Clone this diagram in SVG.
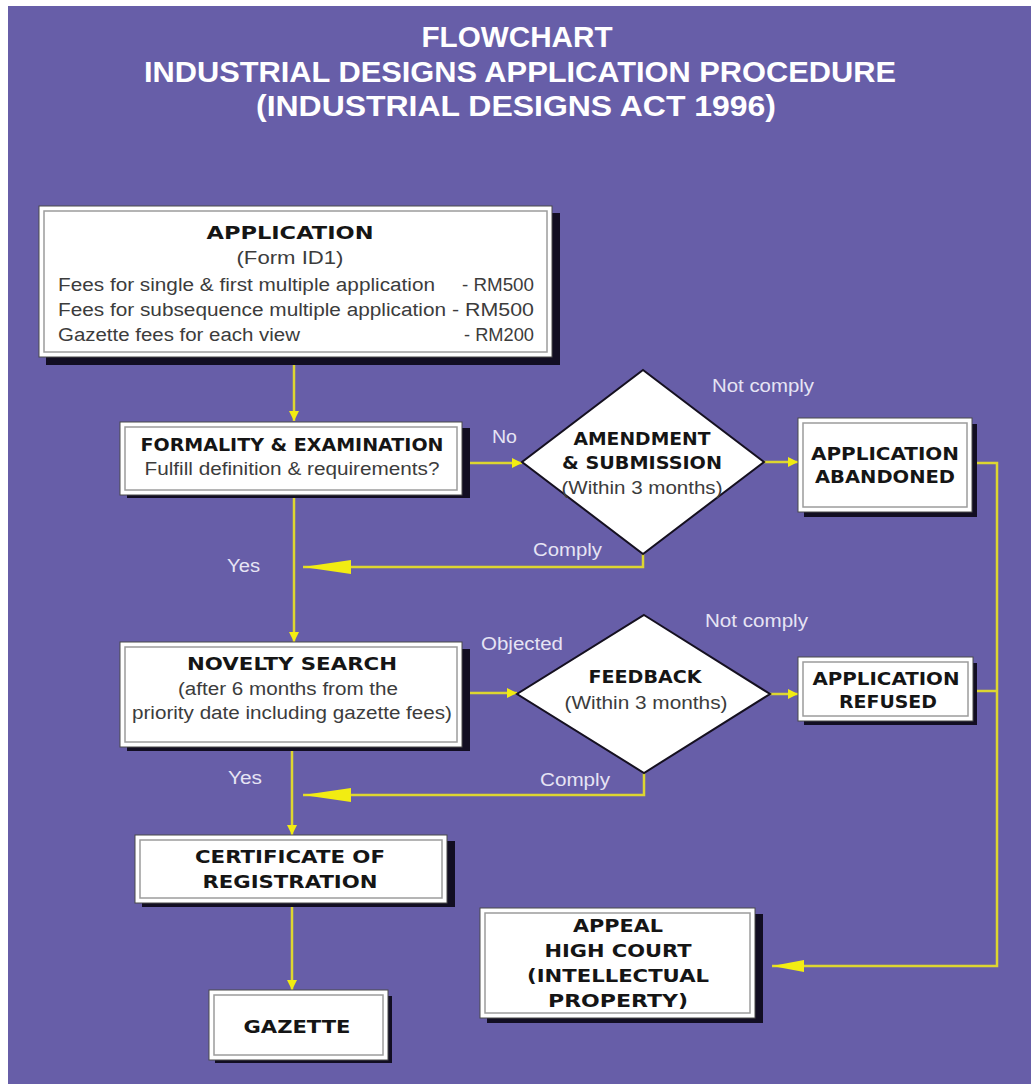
<svg xmlns="http://www.w3.org/2000/svg" width="1031" height="1084" viewBox="0 0 1031 1084">
<defs>
<style>
.bg{fill:#675EA8}
.title{font-family:"Liberation Sans",Arial,sans-serif;font-weight:bold;font-size:29px;fill:#FFFFFF;text-anchor:middle}
.shadow{fill:#120E22}
.box{fill:#FFFFFF;stroke:#4a4a4a;stroke-width:1}
.inner{fill:none;stroke:#9c9c9c;stroke-width:1.5}
.diamond{fill:#FFFFFF;stroke:#151020;stroke-width:2}
.h{font-family:"DejaVu Sans","Liberation Sans",sans-serif;font-weight:bold;font-size:18px;fill:#151515;text-anchor:middle}
.s{font-family:"Liberation Sans",Arial,sans-serif;font-size:18px;fill:#3c3c3c;text-anchor:middle}
.f{font-family:"Liberation Sans",Arial,sans-serif;font-size:18px;fill:#3c3c3c}
.lbl{font-family:"Liberation Sans",Arial,sans-serif;font-size:18px;fill:#E6E4F4}
.con{fill:none;stroke:#DDD631;stroke-width:2.5}
.ah{fill:#F2EC12}
</style>
<marker id="sm" viewBox="0 0 10 10" refX="10" refY="5" markerWidth="10" markerHeight="10" markerUnits="userSpaceOnUse" orient="auto"><path d="M0,0 L10,5 L0,10 Z" class="ah"/></marker>
<marker id="big" viewBox="0 0 48 14" refX="48" refY="7" markerWidth="48" markerHeight="14" markerUnits="userSpaceOnUse" orient="auto"><path d="M0,0 L48,7 L0,14 Z" class="ah"/></marker>
<marker id="mid" viewBox="0 0 32 12" refX="32" refY="6" markerWidth="32" markerHeight="12" markerUnits="userSpaceOnUse" orient="auto"><path d="M0,0 L32,6 L0,12 Z" class="ah"/></marker>
</defs>
<rect x="0" y="0" width="1031" height="1084" fill="#FFFFFF"/>
<rect class="bg" x="8" y="6" width="1023" height="1078"/>
<g id="title">
<text class="title" x="517" y="47" textLength="191" lengthAdjust="spacingAndGlyphs">FLOWCHART</text>
<text class="title" x="520" y="82" textLength="752" lengthAdjust="spacingAndGlyphs">INDUSTRIAL DESIGNS APPLICATION PROCEDURE</text>
<text class="title" x="516" y="116" textLength="520" lengthAdjust="spacingAndGlyphs">(INDUSTRIAL DESIGNS ACT 1996)</text>
</g>
<g id="connectors">
<path class="con" d="M294,360 L294,421" marker-end="url(#sm)"/>
<path class="con" d="M462,463 L522,463" marker-end="url(#sm)"/>
<path class="con" d="M764,462 L798,462" marker-end="url(#sm)"/>
<path class="con" d="M643,554 L643,567 L303,567" marker-end="url(#big)"/>
<path class="con" d="M294,495 L294,642" marker-end="url(#sm)"/>
<path class="con" d="M462,693 L517,693" marker-end="url(#sm)"/>
<path class="con" d="M770,694 L798,694" marker-end="url(#sm)"/>
<path class="con" d="M644,773 L644,795 L303,795" marker-end="url(#big)"/>
<path class="con" d="M292,747 L292,835" marker-end="url(#sm)"/>
<path class="con" d="M292,903 L292,990" marker-end="url(#sm)"/>
<path class="con" d="M972,463 L997,463 L997,966 L772,966" marker-end="url(#mid)"/>
<path class="con" d="M973,691 L997,691"/>
</g>
<g id="labels">
<text class="lbl" x="227" y="572" textLength="33" lengthAdjust="spacingAndGlyphs">Yes</text>
<text class="lbl" x="228" y="784" textLength="34" lengthAdjust="spacingAndGlyphs">Yes</text>
<text class="lbl" x="492" y="443" textLength="25" lengthAdjust="spacingAndGlyphs">No</text>
<text class="lbl" x="712" y="392" textLength="102" lengthAdjust="spacingAndGlyphs">Not comply</text>
<text class="lbl" x="533" y="556" textLength="69" lengthAdjust="spacingAndGlyphs">Comply</text>
<text class="lbl" x="481" y="650" textLength="82" lengthAdjust="spacingAndGlyphs">Objected</text>
<text class="lbl" x="705" y="627" textLength="103" lengthAdjust="spacingAndGlyphs">Not comply</text>
<text class="lbl" x="540" y="786" textLength="70" lengthAdjust="spacingAndGlyphs">Comply</text>
</g>
<g id="n-application">
<rect class="shadow" x="46" y="213" width="514" height="152"/>
<rect class="box" x="39" y="206" width="513" height="151"/>
<rect class="inner" x="44" y="211" width="503" height="141"/>
<text class="h" x="290" y="239" textLength="167" lengthAdjust="spacingAndGlyphs">APPLICATION</text>
<text class="s" x="290" y="264" textLength="107" lengthAdjust="spacingAndGlyphs">(Form ID1)</text>
<text class="f" x="58" y="291" textLength="377" lengthAdjust="spacingAndGlyphs">Fees for single &amp; first multiple application</text>
<text class="f" x="58" y="316" textLength="388" lengthAdjust="spacingAndGlyphs">Fees for subsequence multiple application</text>
<text class="f" x="58" y="341" textLength="242" lengthAdjust="spacingAndGlyphs">Gazette fees for each view</text>
<text class="f" x="534" y="291" text-anchor="end" textLength="72" lengthAdjust="spacingAndGlyphs">- RM500</text>
<text class="f" x="534" y="316" text-anchor="end" textLength="82" lengthAdjust="spacingAndGlyphs">- RM500</text>
<text class="f" x="534" y="341" text-anchor="end" textLength="70" lengthAdjust="spacingAndGlyphs">- RM200</text>
</g>
<g id="n-formality">
<rect class="shadow" x="127" y="428" width="343" height="70"/>
<rect class="box" x="120" y="422" width="342" height="73"/>
<rect class="inner" x="125" y="427" width="332" height="63"/>
<text class="h" x="292" y="451" textLength="303" lengthAdjust="spacingAndGlyphs">FORMALITY &amp; EXAMINATION</text>
<text class="s" x="292" y="475" textLength="295" lengthAdjust="spacingAndGlyphs">Fulfill definition &amp; requirements?</text>
</g>
<g id="n-amendment">
<polygon class="diamond" points="643,370 764,462 643,554 522,462"/>
<text class="h" x="642" y="445" textLength="137" lengthAdjust="spacingAndGlyphs">AMENDMENT</text>
<text class="h" x="642" y="469" textLength="160" lengthAdjust="spacingAndGlyphs">&amp; SUBMISSION</text>
<text class="s" x="642" y="494" textLength="161" lengthAdjust="spacingAndGlyphs">(Within 3 months)</text>
</g>
<g id="n-abandoned">
<rect class="shadow" x="804" y="424" width="173" height="93"/>
<rect class="box" x="798" y="418" width="174" height="94"/>
<rect class="inner" x="803" y="423" width="164" height="84"/>
<text class="h" x="885" y="460" textLength="148" lengthAdjust="spacingAndGlyphs">APPLICATION</text>
<text class="h" x="885" y="483" textLength="140" lengthAdjust="spacingAndGlyphs">ABANDONED</text>
</g>
<g id="n-novelty">
<rect class="shadow" x="127" y="649" width="343" height="102"/>
<rect class="box" x="120" y="642" width="342" height="105"/>
<rect class="inner" x="125" y="647" width="332" height="95"/>
<text class="h" x="292" y="670" textLength="210" lengthAdjust="spacingAndGlyphs">NOVELTY SEARCH</text>
<text class="s" x="288" y="695" textLength="220" lengthAdjust="spacingAndGlyphs">(after 6 months from the</text>
<text class="s" x="292" y="719" textLength="320" lengthAdjust="spacingAndGlyphs">priority date including gazette fees)</text>
</g>
<g id="n-feedback">
<polygon class="diamond" points="644,615 770,694 644,773 517,694"/>
<text class="h" x="645" y="683" textLength="113" lengthAdjust="spacingAndGlyphs">FEEDBACK</text>
<text class="s" x="646" y="709" textLength="163" lengthAdjust="spacingAndGlyphs">(Within 3 months)</text>
</g>
<g id="n-refused">
<rect class="shadow" x="804" y="663" width="173" height="62"/>
<rect class="box" x="798" y="657" width="175" height="64"/>
<rect class="inner" x="803" y="662" width="165" height="54"/>
<text class="h" x="886" y="685" textLength="147" lengthAdjust="spacingAndGlyphs">APPLICATION</text>
<text class="h" x="888" y="708" textLength="98" lengthAdjust="spacingAndGlyphs">REFUSED</text>
</g>
<g id="n-certificate">
<rect class="shadow" x="142" y="841" width="313" height="66"/>
<rect class="box" x="135" y="835" width="312" height="68"/>
<rect class="inner" x="140" y="840" width="302" height="58"/>
<text class="h" x="290" y="863" textLength="190" lengthAdjust="spacingAndGlyphs">CERTIFICATE OF</text>
<text class="h" x="290" y="888" textLength="175" lengthAdjust="spacingAndGlyphs">REGISTRATION</text>
</g>
<g id="n-gazette">
<rect class="shadow" x="215" y="996" width="177" height="67"/>
<rect class="box" x="209" y="990" width="179" height="70"/>
<rect class="inner" x="214" y="995" width="169" height="60"/>
<text class="h" x="297" y="1033" textLength="107" lengthAdjust="spacingAndGlyphs">GAZETTE</text>
</g>
<g id="n-appeal">
<rect class="shadow" x="487" y="914" width="276" height="109"/>
<rect class="box" x="480" y="908" width="275" height="110"/>
<rect class="inner" x="485" y="913" width="265" height="100"/>
<text class="h" x="618" y="932" textLength="90" lengthAdjust="spacingAndGlyphs">APPEAL</text>
<text class="h" x="618" y="957" textLength="147" lengthAdjust="spacingAndGlyphs">HIGH COURT</text>
<text class="h" x="618" y="982" textLength="182" lengthAdjust="spacingAndGlyphs">(INTELLECTUAL</text>
<text class="h" x="618" y="1007" textLength="140" lengthAdjust="spacingAndGlyphs">PROPERTY)</text>
</g>
</svg>
